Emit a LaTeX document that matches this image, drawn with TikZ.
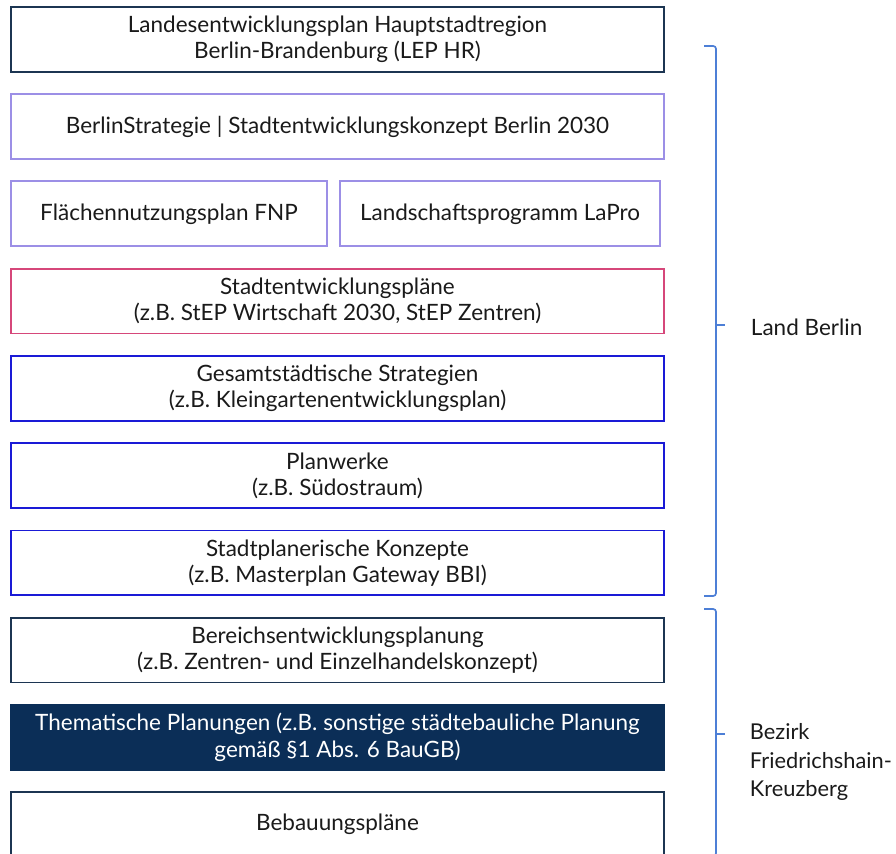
\documentclass[tikz,border=0pt]{standalone}
\usepackage{fontspec}
\setmainfont{Lato}
\usetikzlibrary{positioning}

\definecolor{navy}{HTML}{1C3552}
\definecolor{lavender}{HTML}{9C8FE6}
\definecolor{rose}{HTML}{D6477A}
\definecolor{royal}{HTML}{1A1AD6}
\definecolor{navyfill}{HTML}{0B2E57}
\definecolor{bracketblue}{HTML}{4D7FD6}
\definecolor{ink}{HTML}{1A1A1A}

\begin{document}
\begin{tikzpicture}[
				x=0.025cm, y=-0.025cm,
				node distance=0.515cm and 0.28cm,
				every node/.style={font=\fontsize{16}{18.5}\selectfont, text=ink},
				plan/.style={rectangle, draw, line width=1.3pt, minimum width=16.325cm, minimum height=1.62cm, align=center, inner sep=2pt},
				level/.style={plan, draw=navy},
				strategy/.style={plan, draw=lavender},
				steps/.style={plan, draw=rose},
				city/.style={plan, draw=royal},
				topic/.style={plan, draw=navyfill, fill=navyfill, text=white},
				bracket/.style={draw=bracketblue, line width=1.2pt, rounded corners=2pt},
				side/.style={anchor=west, align=left}
				]
				\useasboundingbox (0,0) rectangle (896,854);
				% Land Berlin
				\node (lep) [level, anchor=north west] at (10,6) {Landesentwicklungsplan Hauptstadtregion\\Berlin-Brandenburg (LEP HR)};
				\node (strat) [strategy, below=of lep] {BerlinStrategie | Stadtentwicklungskonzept Berlin 2030};
				\node (fnp) [strategy, minimum width=7.9cm, anchor=north west] at ([yshift=-0.515cm]strat.south west) {Flächennutzungsplan FNP};
				\node (lapro) [strategy, minimum width=8.0cm, right=of fnp] {Landschaftsprogramm LaPro};
				\node (stepl) [steps, below=of fnp.south west, anchor=north west] {Stadtentwicklungspläne\\(z.B. StEP Wirtschaft 2030, StEP Zentren)};
				\node (gesamt) [city, below=of stepl] {Gesamtstädtische Strategien\\(z.B. Kleingartenentwicklungsplan)};
				\node (planw) [city, below=of gesamt] {Planwerke\\(z.B. Südostraum)};
				\node (konz) [city, below=of planw] {Stadtplanerische Konzepte\\(z.B. Masterplan Gateway BBI)};
				% Bezirk
				\node (bereich) [level, below=of konz] {Bereichsentwicklungsplanung\\(z.B. Zentren- und Einzelhandelskonzept)};
				\node (thema) [topic, below=of bereich] {Thematische Planungen (z.B. sonstige städtebauliche Planung\\gemäß §1 Abs. 6 BauGB)};
				\node (bplan) [level, below=of thema] {Bebauungspläne};

				% Brackets
				\coordinate (landtop) at (704,46);
				\coordinate (landmid) at (716,325);
				\coordinate (landbot) at (704,596);
				\coordinate (bztop) at (704,609);
				\coordinate (bzmid) at (716,734);
				\coordinate (bzbot) at (704,856);
				\draw [bracket] (landtop) -| (landbot -| landmid) -- (landbot);
				\draw [bracket] (landmid) -- ++(9,0);
				\draw [bracket] (bztop) -| (bzbot -| bzmid) -- (bzbot);
				\draw [bracket] (bzmid) -- ++(9,0);
				\node (land) [side] at (746,327) {Land Berlin};
				\node (bezirk) [side, font=\fontsize{15.5}{20.5}\selectfont] at (745,762) {Bezirk\\Friedrichshain-\\Kreuzberg};
			\end{tikzpicture}
\end{document}
